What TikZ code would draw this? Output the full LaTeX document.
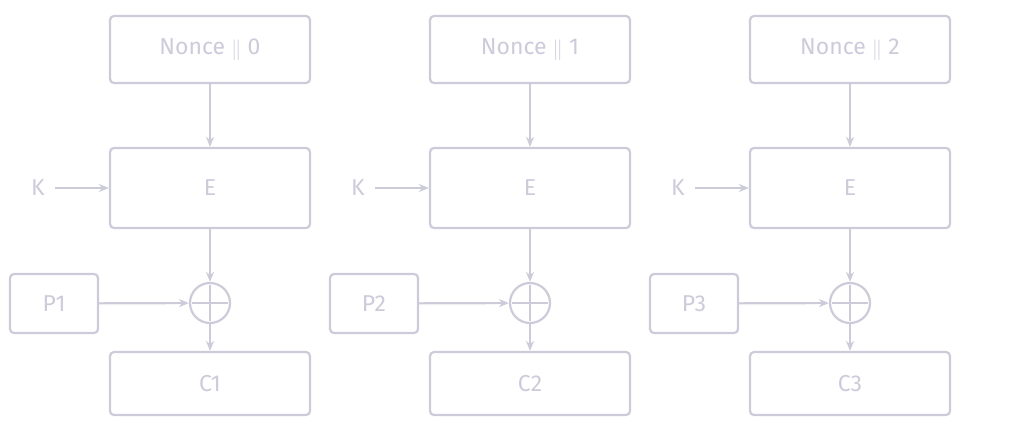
\documentclass[tikz,border=0pt]{standalone}
\usepackage{fontspec}
\setmainfont{Fira Sans}
\usetikzlibrary{arrows.meta}
\definecolor{ln}{RGB}{204,203,218}
\begin{document}
\begin{tikzpicture}[x=1pt,y=-1pt,
  box/.style={draw=ln,line width=2.2pt,rounded corners=4pt,text=ln,font=\fontsize{23}{26}\selectfont,minimum width=200pt,inner sep=0pt},
  pbox/.style={box,minimum width=88pt,minimum height=59pt},
  xorc/.style={draw=ln,line width=2.2pt,circle,minimum size=40pt,inner sep=0pt},
  lbl/.style={text=ln,font=\fontsize{23}{26}\selectfont,inner sep=0pt},
  arr/.style={draw=ln,line width=2.2pt,-{Stealth[length=10pt,width=8pt]}}]
\useasboundingbox (0,0) rectangle (1020,440);
\foreach \i/\n in {0/1,1/2,2/3}{
  \begin{scope}[xshift=\i*320pt]
  \node[box,minimum height=67pt] (N\n) at (210,49.5) {Nonce \raisebox{-1pt}{\fontsize{21}{24}\selectfont$\|$} \i};
  \node[box,minimum height=80pt] (E\n) at (210,188) {E};
  \node[lbl] (K\n) at (38,188) {K};
  \node[xorc] (X\n) at (210,303) {};
  \draw[ln,line width=2.2pt] ([yshift=-3pt]X\n.north) -- ([yshift=3pt]X\n.south) ([xshift=3pt]X\n.west) -- ([xshift=-3pt]X\n.east);
  \node[pbox] (P\n) at (54,303.5) {P\n};
  \node[box,minimum height=63pt] (C\n) at (210,383.5) {C\n};
  \draw[arr] (N\n) -- (E\n);
  \draw[arr] (E\n) -- (X\n);
  \draw[arr] (X\n) -- (C\n);
  \draw[arr] (P\n) -- (X\n);
  \draw[arr] ([xshift=10pt]K\n.east) -- (E\n);
  \end{scope}
}
\end{tikzpicture}
\end{document}
